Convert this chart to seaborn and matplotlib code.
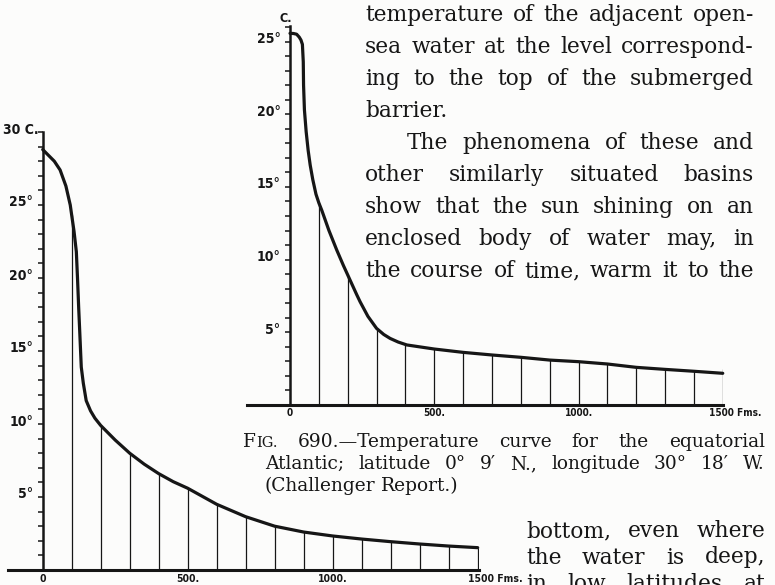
import numpy as np
import pandas as pd
import seaborn as sns
import matplotlib
matplotlib.use("Agg")
import matplotlib.pyplot as plt
from matplotlib import font_manager
from matplotlib.transforms import IdentityTransform, ScaledTranslation
from matplotlib.ticker import FixedLocator, MultipleLocator

# ---------------------------------------------------------------- data
# Left curve: temperature (deg C) against depth (fathoms)
left_fathoms = [0, 20, 40, 60, 80, 95, 100, 108, 116, 120, 124, 128, 133, 140,
                150, 165, 180, 200, 250, 300, 350, 400, 450, 500, 600, 700,
                800, 900, 1000, 1100, 1200, 1300, 1400, 1500]
left_temps = [28.8, 28.4, 28.0, 27.4, 26.3, 25.0, 24.3, 23.2, 21.8, 20.0, 18.0,
              16.2, 13.9, 12.8, 11.6, 10.9, 10.4, 9.9, 8.9, 8.0, 7.25, 6.6,
              6.05, 5.6, 4.5, 3.65, 3.0, 2.6, 2.33, 2.12, 1.94, 1.78, 1.64, 1.53]
left_hatch_fathoms = [100, 200, 300, 400, 500, 600, 700, 800, 900, 1000,
                      1100, 1200, 1300, 1400, 1500]
left_hatch_temps = [24.3, 9.9, 8.0, 6.6, 5.6, 4.5, 3.65, 3.0, 2.6, 2.33,
                    2.12, 1.94, 1.78, 1.64, 1.53]

# Fig. 690: equatorial Atlantic, 0 deg 9' N, 30 deg 18' W
right_fathoms = [0, 12, 23, 32, 38, 43, 46, 47, 50, 56, 63, 70, 79, 90, 100,
                 110, 135, 162, 185, 208, 231, 243, 270, 300, 325, 347, 375, 405,
                 500, 600, 700, 800, 900, 1000, 1100, 1200, 1300, 1400, 1500]
right_temps = [25.56, 25.55, 25.5, 25.3, 25.1, 24.8, 23.6, 22.0, 20.3, 18.8,
               17.5, 16.5, 15.5, 14.5, 13.9, 13.4, 12.0, 10.66, 9.6, 8.6, 7.6,
               7.1, 6.1, 5.27, 4.85, 4.58, 4.33, 4.13, 3.85, 3.62, 3.44, 3.28,
               3.09, 2.98, 2.82, 2.59, 2.45, 2.32, 2.18]
right_hatch_fathoms = [100, 200, 300, 400, 500, 600, 700, 800, 900, 1000,
                       1100, 1200, 1300, 1400, 1500]
right_hatch_temps = [13.9, 8.9, 5.27, 4.16, 3.85, 3.62, 3.44, 3.28, 3.09, 2.98,
                     2.82, 2.59, 2.45, 2.32, 2.45]

x_tick_values = [0, 500, 1000, 1500]
x_tick_labels = ["0", "500.", "1000.", "1500 Fms."]
left_y_ticks = [5, 10, 15, 20, 25, 30]
left_y_labels = ["5°", "10°", "15°", "20°", "25°", "30 C."]
right_y_ticks = [5, 10, 15, 20, 25]
right_y_labels = ["5°", "10°", "15°", "20°", "25°"]

body_lines = [
    "temperature of the adjacent open-",
    "sea water at the level correspond-",
    "ing to the top of the submerged",
    "barrier.",
    "The phenomena of these and",
    "other similarly situated basins",
    "show that the sun shining on an",
    "enclosed body of water may, in",
    "the course of time, warm it to the",
]
caption_lines = [
    "690.—Temperature curve for the equatorial",
    "Atlantic; latitude 0° 9′ N., longitude 30° 18′ W.",
    "(Challenger Report.)",
]
lower_lines = [
    "bottom, even where",
    "the water is deep,",
    "in low latitudes at",
]

# ---------------------------------------------------------------- style
W, H, DPI = 775, 585, 100
PAPER = "#fcfcfb"
INK = "#161616"

sns.set_theme(style="white")
plt.rcParams["font.family"] = ["DejaVu Sans"]
_names = {f.name for f in font_manager.fontManager.ttflist}
LABEL_FONT = "Liberation Sans Narrow" if "Liberation Sans Narrow" in _names else "DejaVu Sans"
SERIF = "DejaVu Serif"

fig = plt.figure(figsize=(W / DPI, H / DPI), dpi=DPI, facecolor=PAPER)


def px(dx, dy=0.0):
    """Offset transform of dx, dy screen pixels (y up)."""
    return ScaledTranslation(dx / DPI, dy / DPI, fig.dpi_scale_trans)


def style_label(lab):
    lab.set_fontweight("bold")
    lab.set_family(LABEL_FONT)
    lab.set_fontstretch("condensed")


def draw_chart(x0, x1, ytop, ybot, xlim, ylim, fathoms, temps, hatch_f, hatch_t,
               yticks, ylabels, xsize, ysize, xpad, fms_shift):
    ax = fig.add_axes([x0 / W, 1 - ybot / H, (x1 - x0) / W, (ybot - ytop) / H])
    ax.set_facecolor("none")
    df = pd.DataFrame({"fathoms": fathoms, "temp": temps})
    sns.lineplot(data=df, x="fathoms", y="temp", ax=ax, color=INK, linewidth=2.3,
                 estimator=None, sort=False, clip_on=False,
                 solid_joinstyle="round", solid_capstyle="round")
    ax.vlines(hatch_f, 0, hatch_t, colors=INK, linewidth=0.9)
    ax.set_xlim(*xlim)
    ax.set_ylim(*ylim)
    ax.set_xlabel("")
    ax.set_ylabel("")
    for side in ("top", "right"):
        ax.spines[side].set_visible(False)
    ax.spines["left"].set_position(("data", 0))
    ax.spines["left"].set_bounds(0, ylim[1])
    ax.spines["left"].set_linewidth(1.8)
    ax.spines["bottom"].set_linewidth(2.2)
    for side in ("left", "bottom"):
        ax.spines[side].set_color(INK)

    ax.yaxis.set_major_locator(FixedLocator(yticks))
    ax.yaxis.set_minor_locator(MultipleLocator(1))
    ax.set_yticklabels(ylabels)
    ax.tick_params(axis="y", which="both", left=True, direction="out",
                   length=3.6, width=1.1, color=INK)
    ax.tick_params(axis="y", which="major", pad=3.2, labelsize=ysize, labelcolor=INK)
    for lab in ax.get_yticklabels():
        style_label(lab)
        shift = 5 if "C." in lab.get_text() else 0
        lab.set_transform(lab.get_transform() + px(shift, 4))

    ax.set_xticks(x_tick_values, x_tick_labels)
    ax.tick_params(axis="x", bottom=False, length=0, pad=xpad, labelsize=xsize,
                   labelcolor=INK)
    for lab in ax.get_xticklabels():
        style_label(lab)
        if "Fms" in lab.get_text():
            lab.set_horizontalalignment("left")
            lab.set_transform(lab.get_transform() + px(fms_shift, 0))
    return ax


# left chart: 0 fathoms at x=42.7 px, 0.29 px per fathom; 0 deg at y=570, 14.6 px per deg
left_ax = draw_chart(42.7 - 120 * 0.29, 42.7 + 1505 * 0.29, 570 - 30 * 14.6, 570,
                     (-120, 1505), (0, 30), left_fathoms, left_temps,
                     left_hatch_fathoms, left_hatch_temps, left_y_ticks,
                     left_y_labels, 7.5, 10, 3.0, -10)

# right chart: 0 fathoms at x=290 px, 0.2885 px per fathom; 0 deg at y=405, 14.54 px per deg
right_ax = draw_chart(290 - 150 * 0.2885, 290 + 1502 * 0.2885, 405 - 26.1 * 14.54, 405,
                      (-150, 1502), (0, 26.1), right_fathoms, right_temps,
                      right_hatch_fathoms, right_hatch_temps, right_y_ticks,
                      right_y_labels, 7.2, 10, 2.0, -14)
right_ax.annotate("C.", xy=(0, 26.1), xytext=(-4, 7), textcoords="offset pixels",
                  ha="center", va="center", fontsize=9, fontweight="bold",
                  family=LABEL_FONT, fontstretch="condensed", color=INK,
                  annotation_clip=False)

# ---------------------------------------------------------------- page text
renderer = fig.canvas.get_renderer()


def set_line(words, x_left, x_right, baseline, size, justify=True):
    placed = []
    for word in words:
        runs = word if isinstance(word, tuple) else ((word, size),)
        texts = [fig.text(0, 0, s, fontsize=sz, family=SERIF, color=INK,
                          transform=IdentityTransform(), ha="left", va="baseline")
                 for s, sz in runs]
        widths = [t.get_window_extent(renderer).width for t in texts]
        placed.append((texts, widths))
    total = sum(sum(w) for _, w in placed)
    if justify and len(placed) > 1:
        gap = (x_right - x_left - total) / (len(placed) - 1)
    else:
        gap = 0.3 * size * DPI / 72
    x = x_left
    y = H - baseline
    for texts, widths in placed:
        for t, w in zip(texts, widths):
            t.set_position((x, y))
            x += w
        x += gap


BODY = 15.7
CAP = 13.4
for i, line in enumerate(body_lines):
    left = 407 if line.startswith("The phenomena") else 365
    set_line(line.split(), left, 754, 21 + 32 * i, BODY, justify=(line != "barrier."))

set_line([(("F", CAP), ("IG.", CAP * 0.78))] + caption_lines[0].split(),
         243, 765, 447, CAP)
set_line(caption_lines[1].split(), 265, 765, 469, CAP)
set_line(caption_lines[2].split(), 265, 765, 491, CAP, justify=False)

for i, line in enumerate(lower_lines):
    set_line(line.split(), 526, 765, 537 + 26.5 * i, BODY)

fig.savefig("out.png", dpi=DPI, facecolor=PAPER)
